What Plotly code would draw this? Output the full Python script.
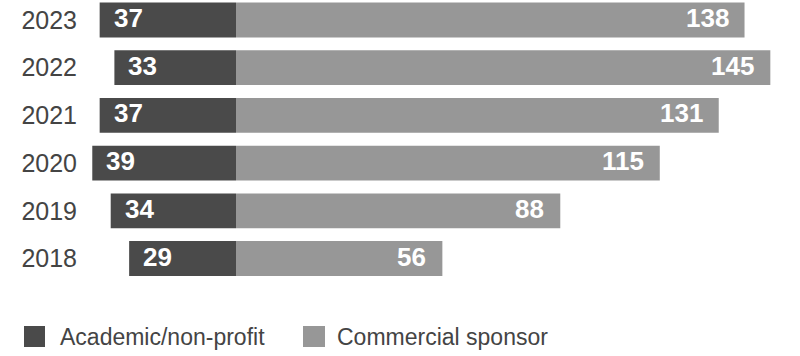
import plotly.graph_objects as go

years = ["2018", "2019", "2020", "2021", "2022", "2023"]
academic = [29, 34, 39, 37, 33, 37]
commercial = [56, 88, 115, 131, 145, 138]
series_names = ["Academic/non-profit", "Commercial sponsor"]
colors = ["#4a4a4a", "#979797"]

W, H = 800, 356
ML, MR, MT, MB = 85, 0, 0, 56
PW, PH = W - ML - MR, H - MT - MB
PX_PER_UNIT = 3.685
BASE_PX = 236
x_lo = -(BASE_PX - ML) / PX_PER_UNIT
x_hi = (W - MR - BASE_PX) / PX_PER_UNIT
# vertical: 2023 centre at y=20px, 2018 centre at 258.5px
row = (258.5 - 20) / 5
y_hi = 5 + 20 / row
y_lo = 0 - (PH - 258.5) / row

font = "Liberation Sans, Arial, Helvetica, sans-serif"

fig = go.Figure()
fig.add_trace(go.Bar(
    y=years, x=academic, base=[-v for v in academic], orientation="h",
    marker=dict(color=colors[0], line=dict(width=0)), width=0.73,
    name=series_names[0], showlegend=False, hoverinfo="skip"))
fig.add_trace(go.Bar(
    y=years, x=commercial, base=0, orientation="h",
    marker=dict(color=colors[1], line=dict(width=0)), width=0.73,
    name=series_names[1], showlegend=False, hoverinfo="skip"))

annotations = []
for i, (a, c) in enumerate(zip(academic, commercial)):
    annotations.append(dict(x=-a, y=i, xref="x", yref="y", text="<b>%d</b>" % a,
                            showarrow=False, xanchor="left", yanchor="middle",
                            xshift=12, yshift=2,
                            font=dict(family=font, size=26, color="white")))
    annotations.append(dict(x=c, y=i, xref="x", yref="y", text="<b>%d</b>" % c,
                            showarrow=False, xanchor="right", yanchor="middle",
                            xshift=-14, yshift=2,
                            font=dict(family=font, size=26, color="white")))

def px_x(p):
    return (p - ML) / PW

def px_y(p):
    return (MT + PH - p) / PH

shapes = []
legend_items = [(24, 45, 58), (303, 325, 335)]
for (x0, x1, tx), name, col in zip(legend_items, series_names, colors):
    shapes.append(dict(type="rect", xref="paper", yref="paper",
                       x0=px_x(x0), x1=px_x(x1), y0=px_y(347), y1=px_y(326),
                       fillcolor=col, line=dict(width=0)))
    annotations.append(dict(x=px_x(tx), y=px_y(336.5), xref="paper", yref="paper",
                            text=name, showarrow=False, xanchor="left", yanchor="middle",
                            font=dict(family=font, size=23, color="#444444")))

fig.update_layout(
    width=W, height=H, margin=dict(l=ML, r=MR, t=MT, b=MB),
    paper_bgcolor="white", plot_bgcolor="white",
    barmode="overlay", showlegend=False,
    xaxis=dict(range=[x_lo, x_hi], visible=False, fixedrange=True),
    yaxis=dict(type="category", categoryorder="array", categoryarray=years,
               range=[y_lo, y_hi], showgrid=False, zeroline=False, showline=False,
               ticks="", ticklabelstandoff=7,
               tickfont=dict(family=font, size=25, color="#444444")),
    annotations=annotations, shapes=shapes,
)
fig.write_html("out.html")
